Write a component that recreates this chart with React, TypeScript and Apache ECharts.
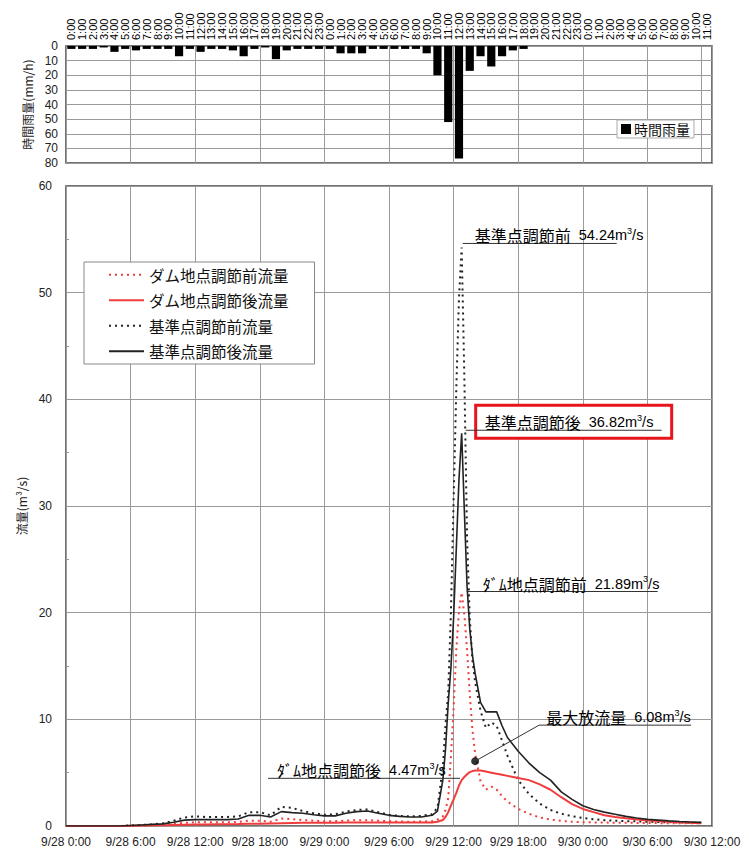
import { useEffect, useRef } from "react";
import * as echarts from "echarts";

// ---- hourly rainfall (mm/h), 9/28 0:00 .. 9/30 11:00 ----
const rainLabels: string[] = [];
for (let d = 0; d < 3; d++) {
  const n = d < 2 ? 24 : 12;
  for (let h = 0; h < n; h++) rainLabels.push(`${h}:00`);
}
const rainfall = [
  2, 2, 2, 1, 4, 2, 3, 2, 2, 2,
  7, 2, 4, 2, 2, 3, 7, 2, 1, 9,
  3, 2, 2, 2, 2, 5, 5, 5, 2, 2,
  2, 2, 2, 5, 20, 52, 77, 17, 7, 14,
  7, 3, 2, 0, 0, 0, 0, 0, 0, 0,
  0, 0, 0, 0, 0, 0, 0, 0, 0, 0,
];

// ---- flow time axis (hours since 9/28 0:00) ----
const hours = [
  0, 1, 2, 3, 4, 5, 6, 7, 8, 9, 10, 11, 12, 13, 14, 15, 16, 17, 18, 19, 20, 21, 22, 23,
  24, 25, 26, 27, 28, 29, 30, 31, 32, 33, 34,
  34.5, 35, 35.25, 35.5, 35.75, 36, 36.25, 36.5, 36.75, 37, 37.25, 37.5, 37.75, 38,
  38.5, 39, 39.5, 40, 40.5, 41,
  42, 43, 44, 45, 46, 47, 48, 49, 50, 51, 52, 53, 54, 55, 56, 57, 58, 59,
];

// ダム地点調節前流量
const damBefore = [
  0, 0, 0, 0, 0, 0, 0.02, 0.05, 0.08, 0.12, 0.2, 0.3, 0.35, 0.35, 0.35, 0.35, 0.38, 0.5, 0.5, 0.4, 0.7, 0.65, 0.55, 0.5,
  0.45, 0.45, 0.5, 0.55, 0.55, 0.5, 0.45, 0.42, 0.4, 0.42, 0.45,
  0.6, 0.9, 1.5, 2.6, 6.5, 11, 16.5, 20.2, 21.89, 19.8, 16.5, 12.4, 9.0, 6.8,
  4.2, 3.4, 3.7, 3.4, 2.8, 2.3,
  1.6, 1.15, 0.8, 0.6, 0.48, 0.4, 0.36, 0.34, 0.32, 0.31, 0.3, 0.29, 0.28, 0.27, 0.26, 0.26, 0.25, 0.25,
];
// ダム地点調節後流量
const damAfter = [
  0, 0, 0, 0, 0, 0, 0.02, 0.04, 0.06, 0.08, 0.1, 0.12, 0.14, 0.15, 0.16, 0.17, 0.18, 0.2, 0.22, 0.24, 0.26, 0.28, 0.3, 0.3,
  0.3, 0.31, 0.32, 0.33, 0.33, 0.33, 0.32, 0.32, 0.32, 0.32, 0.33,
  0.4, 0.56, 0.85, 1.3, 1.9, 2.5, 3.1, 3.8, 4.3, 4.6, 4.85, 5.05, 5.15, 5.2,
  5.2, 5.1, 5.0, 4.9, 4.8, 4.7,
  4.5, 4.3, 3.9, 3.4, 2.7, 2.05, 1.6, 1.3, 1.0, 0.85, 0.72, 0.62, 0.52, 0.46, 0.4, 0.35, 0.3, 0.25,
];
// 基準点調節前流量
const baseBefore = [
  0, 0, 0, 0, 0, 0, 0.05, 0.1, 0.15, 0.25, 0.5, 0.8, 0.9, 0.85, 0.85, 0.85, 0.9, 1.3, 1.3, 1.0, 1.8, 1.7, 1.4, 1.2,
  1.05, 1.1, 1.35, 1.5, 1.55, 1.3, 1.05, 0.95, 0.9, 0.95, 1.1,
  1.7, 5.5, 9.5, 12.5, 20, 30.5, 41, 49.5, 54.24, 42, 27, 19.5, 15.5, 13.5,
  10.8, 9.2, 9.7, 9.4, 8.0, 6.6,
  4.3, 3.0, 2.1, 1.5, 1.15, 0.92, 0.75, 0.63, 0.55, 0.5, 0.46, 0.43, 0.4, 0.37, 0.35, 0.33, 0.31, 0.3,
];
// 基準点調節後流量
const baseAfter = [
  0, 0, 0, 0, 0, 0, 0.05, 0.1, 0.15, 0.2, 0.35, 0.55, 0.6, 0.6, 0.6, 0.6, 0.65, 1.0, 1.0, 0.85, 1.35, 1.25, 1.2, 1.05,
  0.95, 0.95, 1.2, 1.35, 1.4, 1.2, 1.0, 0.9, 0.85, 0.85, 1.0,
  1.4, 4.3, 7.2, 11.5, 14.8, 19.5, 26, 32.5, 36.82, 29.5, 22.5, 18.5, 16, 14.3,
  11.6, 10.7, 10.7, 10.7, 9.4, 8.3,
  7.0, 5.9, 5.0, 4.3, 3.2, 2.5, 1.9, 1.55, 1.3, 1.1, 0.9, 0.75, 0.62, 0.55, 0.48, 0.42, 0.38, 0.34,
];
// 最大放流量 point
const maxRelease = [38, 6.08];

const JP = '"Noto Sans CJK JP", "Noto Sans", sans-serif';
const NUM = '"Liberation Sans", Arial, sans-serif';
const RED = "#f03c3c";
const BLK = "#222";
const GRID = "#9a9a9a";
const FRAME = "#444";

export default function App() {
  const ref = useRef<HTMLDivElement>(null);
  useEffect(() => {
    document.body.style.margin = "0";
    const chart = echarts.init(ref.current!, null, { renderer: "svg" });
    const pair = (arr: number[]) => hours.map((h, i) => [h, arr[i]]);
    const names = ["ダム地点調節前流量", "ダム地点調節後流量", "基準点調節前流量", "基準点調節後流量"];
    chart.setOption({
      animation: false,
      backgroundColor: "#fff",
      textStyle: { fontFamily: NUM },
      grid: [
        { left: 66, right: 37, top: 46, height: 117, show: true, borderColor: FRAME, borderWidth: 1.5 },
        { left: 66, right: 37, top: 186, height: 640, show: true, borderColor: FRAME, borderWidth: 1.5 },
      ],
      legend: [
        {
          data: names,
          orient: "vertical",
          left: 84,
          top: 262,
          padding: [5, 26, 5, 24],
          itemWidth: 35,
          itemHeight: 14,
          itemGap: 10,
          backgroundColor: "#fff",
          borderColor: "#888",
          borderWidth: 1,
          itemStyle: { opacity: 0 },
          textStyle: { fontFamily: JP, fontSize: 15.5, color: "#111", lineHeight: 14 },
        },
        {
          data: [{ name: "時間雨量", icon: "rect" }],
          left: 617,
          top: 120,
          padding: [2, 4, 2, 4],
          itemWidth: 10,
          itemHeight: 10,
          borderColor: "#aaa",
          borderWidth: 1,
          backgroundColor: "#fff",
          textStyle: { fontFamily: JP, fontSize: 14, color: "#111", padding: [0, 0, 0, -2] },
        },
      ],
      xAxis: [
        {
          gridIndex: 0,
          type: "category",
          position: "top",
          data: rainLabels,
          boundaryGap: true,
          axisLine: { show: false },
          axisTick: { show: false },
          axisLabel: { interval: 0, rotate: 90, fontSize: 11, margin: 6, color: "#000", fontFamily: NUM },
          splitLine: { show: true, interval: 5, lineStyle: { color: GRID, width: 1 } },
        },
        {
          gridIndex: 1,
          type: "value",
          min: 0,
          max: 60,
          interval: 6,
          axisLine: { show: false },
          axisTick: { show: false },
          axisLabel: {
            fontSize: 12,
            color: "#222",
            margin: 10,
            fontFamily: NUM,
            formatter: (v: number) => `9/${28 + Math.floor(v / 24)} ${v % 24}:00`,
          },
          splitLine: { show: true, lineStyle: { color: GRID, width: 1 } },
        },
      ],
      yAxis: [
        {
          gridIndex: 0,
          type: "value",
          inverse: true,
          min: 0,
          max: 80,
          interval: 10,
          name: "時間雨量(mm/h)",
          nameLocation: "middle",
          nameGap: 24,
          nameTextStyle: { fontFamily: JP, fontSize: 12, color: "#222" },
          axisLine: { show: false },
          axisTick: { show: false },
          axisLabel: { fontSize: 12, color: "#222", margin: 8, fontFamily: NUM },
          splitLine: { show: true, lineStyle: { color: GRID, width: 1 } },
        },
        {
          gridIndex: 1,
          type: "value",
          min: 0,
          max: 60,
          interval: 10,
          name: "流量(m³/s)",
          nameLocation: "middle",
          nameGap: 30,
          nameTextStyle: { fontFamily: JP, fontSize: 12, color: "#222" },
          axisLine: { show: false },
          axisTick: { show: false },
          minorTick: { show: true, splitNumber: 2, length: -3, lineStyle: { color: "#999" } },
          axisLabel: { fontSize: 12, color: "#222", margin: 14, fontFamily: NUM },
          splitLine: { show: true, lineStyle: { color: GRID, width: 1 } },
        },
      ],
      series: [
        {
          name: "時間雨量",
          type: "bar",
          xAxisIndex: 0,
          yAxisIndex: 0,
          data: rainfall,
          barWidth: "76%",
          itemStyle: { color: "#000" },
        },
        {
          name: names[0],
          type: "line",
          xAxisIndex: 1,
          yAxisIndex: 1,
          data: pair(damBefore),
          symbol: "none",
          lineStyle: { color: RED, width: 2, type: [2, 4] },
          itemStyle: { color: RED },
          z: 3,
        },
        {
          name: names[1],
          type: "line",
          xAxisIndex: 1,
          yAxisIndex: 1,
          data: pair(damAfter),
          symbol: "none",
          lineStyle: { color: RED, width: 2 },
          itemStyle: { color: RED },
          z: 4,
        },
        {
          name: names[2],
          type: "line",
          xAxisIndex: 1,
          yAxisIndex: 1,
          data: pair(baseBefore),
          symbol: "none",
          lineStyle: { color: BLK, width: 2, type: [2, 4] },
          itemStyle: { color: BLK },
          z: 3,
        },
        {
          name: names[3],
          type: "line",
          xAxisIndex: 1,
          yAxisIndex: 1,
          data: pair(baseAfter),
          symbol: "none",
          lineStyle: { color: BLK, width: 1.6 },
          itemStyle: { color: BLK },
          z: 4,
        },
        {
          name: "最大放流量",
          type: "scatter",
          xAxisIndex: 1,
          yAxisIndex: 1,
          data: [maxRelease],
          symbolSize: 8,
          itemStyle: { color: "#000" },
          z: 6,
        },
      ],
    });

    const P = (x: number, y: number) => chart.convertToPixel({ gridIndex: 1 }, [x, y]) as number[];
    const rich = {
      j: { fontFamily: JP, fontSize: 16, color: "#222", lineHeight: 18 },
      n: { fontFamily: NUM, fontSize: 14.5, color: "#222", lineHeight: 18 },
      s: { fontFamily: NUM, fontSize: 9, color: "#222", lineHeight: 18, verticalAlign: "top", padding: [0, 0, 6, 0] },
    };
    const lbl = (name: string, val: string) => `{j|${name}}{n|  ${val}m}{s|3}{n|/s}`;
    const line = (x1: number, y1: number, x2: number, y2: number) => ({
      type: "line",
      z: 100,
      shape: { x1, y1, x2, y2 },
      style: { stroke: "#333", lineWidth: 1 },
    });
    const text = (x: number, y: number, t: string) => ({
      type: "text",
      z: 101,
      x,
      y,
      style: { text: t, rich, align: "left", verticalAlign: "bottom" },
    });

    const g: any[] = [];
    // 基準点調節前
    const a1 = P(36.75, 54.24);
    g.push(line(a1[0] + 1, a1[1] - 4, a1[0] + 155, a1[1] - 4));
    g.push(text(a1[0] + 13, a1[1] - 3, lbl("基準点調節前", "54.24")));
    // 基準点調節後 (boxed)
    const a2 = P(36.75, 36.82);
    g.push({
      type: "rect",
      z: 99,
      shape: { x: a2[0] + 14, y: a2[1] - 28, width: 196, height: 33 },
      style: { fill: "#fff", stroke: "#e8141b", lineWidth: 3 },
    });
    g.push(line(a2[0] + 4, a2[1] - 3, a2[0] + 200, a2[1] - 3));
    g.push(text(a2[0] + 23, a2[1] - 2, lbl("基準点調節後", "36.82")));
    // ダム地点調節前
    const a3 = P(36.75, 21.89);
    g.push(line(a3[0] + 5, a3[1] - 1, a3[0] + 196, a3[1] - 1));
    g.push(text(a3[0] + 21, a3[1], lbl("ﾀﾞﾑ地点調節前", "21.89")));
    // ダム地点調節後
    const a4 = P(36.6, 4.47);
    g.push(line(a4[0] - 192, a4[1], a4[0], a4[1]));
    g.push(text(a4[0] - 183, a4[1] + 1, lbl("ﾀﾞﾑ地点調節後", "4.47")));
    // 最大放流量
    const a5 = P(maxRelease[0], maxRelease[1]);
    const lx = a5[0] + 64;
    const ly = a5[1] - 36;
    g.push(line(a5[0], a5[1], lx, ly));
    g.push(line(lx, ly, lx + 152, ly));
    g.push(text(lx + 7, ly + 1, lbl("最大放流量", "6.08")));

    chart.setOption({ graphic: g });
    return () => chart.dispose();
  }, []);
  return <div ref={ref} style={{ width: 749, height: 850 }} />;
}
